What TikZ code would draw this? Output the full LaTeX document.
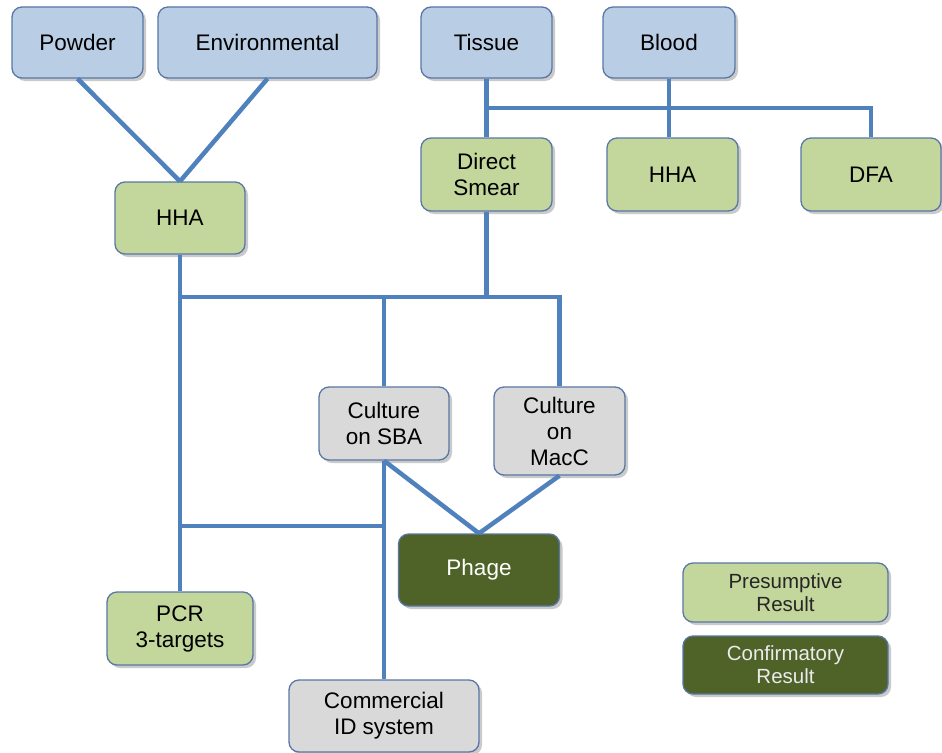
\documentclass[tikz,border=0pt]{standalone}
\usepackage{fontspec}
\setmainfont{Liberation Sans}
\usetikzlibrary{shadows}
\definecolor{srcfill}{HTML}{B9CDE5}
\definecolor{presfill}{HTML}{C3D69B}
\definecolor{cultfill}{HTML}{D9D9D9}
\definecolor{conffill}{HTML}{4F6228}
\definecolor{boxline}{HTML}{5877A6}
\definecolor{linkblue}{HTML}{4F81BD}
\tikzset{
  box/.style={draw=boxline, line width=1.3pt, rounded corners=10pt, inner sep=0pt,
    align=center, font=\fontsize{22.5}{26}\selectfont,
    drop shadow={opacity=0.35, shadow xshift=3pt, shadow yshift=-3pt, fill=black!60}},
  srcbox/.style={box, fill=srcfill},
  presbox/.style={box, fill=presfill},
  cultbox/.style={box, fill=cultfill},
  confbox/.style={box, fill=conffill, text=white},
  legbox/.style={box, font=\fontsize{20.5}{23}\selectfont},
  link/.style={draw=linkblue, line width=4.5pt}
}
\begin{document}
\begin{tikzpicture}[x=1pt,y=-1pt]
\useasboundingbox (0,0) rectangle (942,752);
% source nodes
\node[srcbox, minimum width=131pt, minimum height=71pt] (powder) at (77.5,42.5) {Powder};
\node[srcbox, minimum width=219pt, minimum height=71pt] (env) at (267.5,42.5) {Environmental};
\node[srcbox, minimum width=131pt, minimum height=71pt] (tissue) at (486.5,42.5) {Tissue};
\node[srcbox, minimum width=132pt, minimum height=71pt] (blood) at (669,42.5) {Blood};
% presumptive nodes
\node[presbox, minimum width=130pt, minimum height=72pt] (hhaA) at (180,218) {HHA};
\node[presbox, minimum width=131pt, minimum height=73pt] (smear) at (486.5,174.5) {Direct\\Smear};
\node[presbox, minimum width=131pt, minimum height=73pt] (hhaB) at (672.5,174.5) {HHA};
\node[presbox, minimum width=140pt, minimum height=73pt] (dfa) at (871,174.5) {DFA};
\node[presbox, minimum width=146pt, minimum height=73pt] (pcr) at (180,628.5) {PCR\\3-targets};
% culture nodes
\node[cultbox, minimum width=130pt, minimum height=73pt] (sba) at (384,423.5) {Culture\\on SBA};
\node[cultbox, minimum width=131pt, minimum height=88pt] (macc) at (559.5,431) {Culture\\on\\MacC};
\node[cultbox, minimum width=190pt, minimum height=72pt] (comm) at (384,716) {Commercial\\ID system};
% confirmatory
\node[confbox, minimum width=161pt, minimum height=72pt] (phage) at (479,570) {Phage};
% legend
\node[legbox, fill=presfill, text=black!85, minimum width=205pt, minimum height=59pt] (legP) at (785.5,592.5) {Presumptive\\Result};
\node[legbox, fill=conffill, text=white!92!black, minimum width=205pt, minimum height=58pt] (legC) at (785.5,665) {Confirmatory\\Result};
% connectors
\draw[link] (powder.south) -- (hhaA.north);
\draw[link] (env.south) -- (hhaA.north);
\draw[link] (tissue.south) -- (smear.north);
\coordinate (topbar) at (486.5,108);
\draw[link] (topbar) -- (topbar -| dfa.north) -- (dfa.north);
\draw[link] (blood.south) -- (blood.south |- hhaB.north);
\draw[link] (hhaA.south) -- (pcr.north);
\coordinate (midbar) at (180,297);
\draw[link] (smear.south) -- (smear.south |- midbar);
\draw[link] (midbar) -- (midbar -| macc.north) -- (macc.north);
\draw[link] (sba.north) -- (sba.north |- midbar);
\draw[link] (sba.south) -- (comm.north);
\coordinate (lowbar) at (180,526);
\draw[link] (lowbar) -- (lowbar -| sba.south);
\draw[link] (sba.south) -- (phage.north);
\draw[link] (macc.south) -- (phage.north);
\end{tikzpicture}
\end{document}
